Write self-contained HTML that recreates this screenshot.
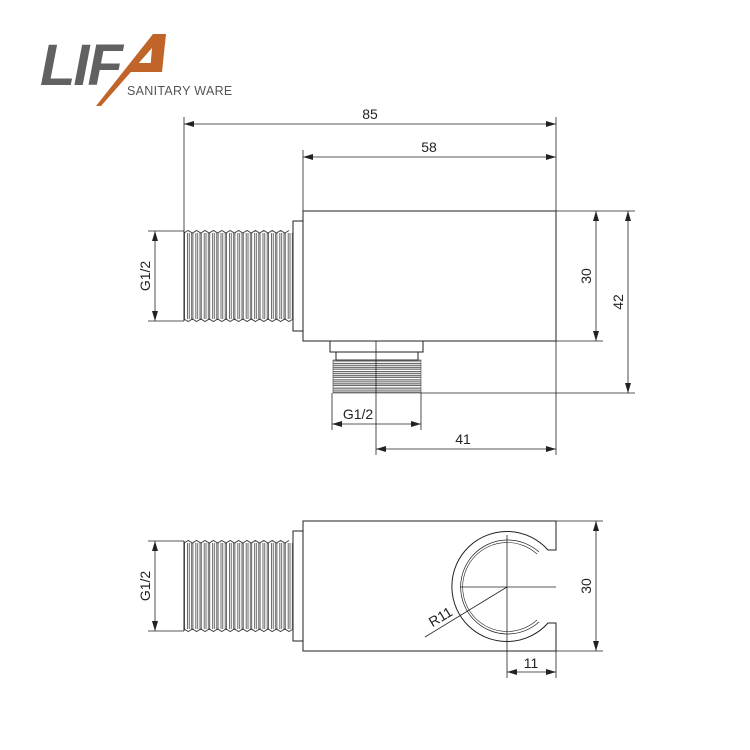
<!DOCTYPE html>
<html><head><meta charset="utf-8"><style>
html,body{margin:0;padding:0;background:#fff;}
svg{display:block;}
text{font-family:"Liberation Sans",sans-serif;fill:#222;}
</style></head><body>
<svg width="750" height="750" viewBox="0 0 750 750" xmlns="http://www.w3.org/2000/svg">
<defs>
<pattern id="thr" x="184" y="0" width="8.4" height="750" patternUnits="userSpaceOnUse">
<path d="M0.5 0V750M3.4 0V750M5.2 0V750M7.6 0V750" stroke="#444" stroke-width="0.8"/>
</pattern>
<pattern id="thrh" x="0" y="360" width="750" height="8.2" patternUnits="userSpaceOnUse">
<path d="M0 1H750M0 3.5H750M0 5.5H750M0 7.5H750" stroke="#444" stroke-width="0.9"/>
</pattern>
<marker id="ar" markerWidth="10" markerHeight="6" refX="10" refY="3" orient="auto-start-reverse" markerUnits="userSpaceOnUse">
<path d="M0 0L10 3L0 6Z" fill="#222"/>
</marker>
</defs>

<!-- Logo -->
<g>
<text x="40" y="85" font-size="58" font-weight="bold" font-style="italic" style="fill:#616161;letter-spacing:-2px">LIF</text>
<path d="M96 106 L153 34 L166 34 L162 72 L150 72 L152 48 L101 106 Z" fill="#c0642a"/>
<path d="M130 72 L162 72 L162 63 L137 63 Z" fill="#c0642a"/>
<text x="127" y="95" font-size="12.5" style="fill:#555;letter-spacing:0.3px">SANITARY WARE</text>
</g>

<g fill="none" stroke="#222" stroke-width="1">
<!-- top view -->
<rect x="303" y="211" width="253" height="130"/>
<rect x="293" y="221" width="10" height="110"/>
<rect x="184" y="233" width="109" height="86" fill="url(#thr)" stroke="none"/>
<path d="M184 233 l4.2 -2.5 4.2 2.5 4.2 -2.5 4.2 2.5 4.2 -2.5 4.2 2.5 4.2 -2.5 4.2 2.5 4.2 -2.5 4.2 2.5 4.2 -2.5 4.2 2.5 4.2 -2.5 4.2 2.5 4.2 -2.5 4.2 2.5 4.2 -2.5 4.2 2.5 4.2 -2.5 4.2 2.5 4.2 -2.5 4.2 2.5 4.2 -2.5 4.2 2.5 4.2 -2.5" stroke="#444"/>
<path d="M184 319 l4.2 2.5 4.2 -2.5 4.2 2.5 4.2 -2.5 4.2 2.5 4.2 -2.5 4.2 2.5 4.2 -2.5 4.2 2.5 4.2 -2.5 4.2 2.5 4.2 -2.5 4.2 2.5 4.2 -2.5 4.2 2.5 4.2 -2.5 4.2 2.5 4.2 -2.5 4.2 2.5 4.2 -2.5 4.2 2.5 4.2 -2.5 4.2 2.5 4.2 -2.5 4.2 2.5 4.2 -2.5" stroke="#444"/>
<line x1="184" y1="231" x2="184" y2="321"/>
<!-- bottom fitting -->
<rect x="330" y="341" width="93" height="11"/>
<rect x="336" y="352" width="82" height="8"/>
<rect x="333" y="360" width="88" height="33" fill="url(#thrh)" stroke="#444" stroke-width="0.6"/>
<line x1="376" y1="341" x2="376" y2="455" stroke-width="0.8"/>

<!-- dims top -->
<g stroke-width="0.8">
<line x1="184" y1="117" x2="184" y2="231"/>
<line x1="556" y1="117" x2="556" y2="211"/>
<line x1="303" y1="150" x2="303" y2="211"/>
<line x1="184" y1="124" x2="556" y2="124" marker-start="url(#ar)" marker-end="url(#ar)"/>
<line x1="303" y1="157" x2="556" y2="157" marker-start="url(#ar)" marker-end="url(#ar)"/>
<line x1="556" y1="211" x2="635" y2="211"/>
<line x1="556" y1="341" x2="603" y2="341"/>
<line x1="421" y1="393" x2="635" y2="393"/>
<line x1="596" y1="211" x2="596" y2="341" marker-start="url(#ar)" marker-end="url(#ar)"/>
<line x1="628" y1="211" x2="628" y2="393" marker-start="url(#ar)" marker-end="url(#ar)"/>
<line x1="148" y1="231" x2="184" y2="231"/>
<line x1="148" y1="321" x2="184" y2="321"/>
<line x1="155" y1="231" x2="155" y2="321" marker-start="url(#ar)" marker-end="url(#ar)"/>
<line x1="332" y1="393" x2="332" y2="430"/>
<line x1="421" y1="393" x2="421" y2="430"/>
<line x1="332" y1="424" x2="421" y2="424" marker-start="url(#ar)" marker-end="url(#ar)"/>
<line x1="556" y1="341" x2="556" y2="455"/>
<line x1="376" y1="449" x2="556" y2="449" marker-start="url(#ar)" marker-end="url(#ar)"/>
</g>

<!-- bottom view -->
<path d="M548 550 L556 550 L556 521 L303 521 L303 651 L556 651 L556 623 L548 623 A55 55 0 1 1 548 550 Z"/>
<path d="M539 552 A47 47 0 1 0 539 622" stroke-width="0.7"/>
<path d="M537 554 A44.5 44.5 0 1 0 537 620" stroke-width="0.6"/>
<rect x="293" y="531" width="10" height="110"/>
<rect x="184" y="543" width="109" height="86" fill="url(#thr)" stroke="none"/>
<path d="M184 543 l4.2 -2.5 4.2 2.5 4.2 -2.5 4.2 2.5 4.2 -2.5 4.2 2.5 4.2 -2.5 4.2 2.5 4.2 -2.5 4.2 2.5 4.2 -2.5 4.2 2.5 4.2 -2.5 4.2 2.5 4.2 -2.5 4.2 2.5 4.2 -2.5 4.2 2.5 4.2 -2.5 4.2 2.5 4.2 -2.5 4.2 2.5 4.2 -2.5 4.2 2.5 4.2 -2.5" stroke="#444"/>
<path d="M184 629 l4.2 2.5 4.2 -2.5 4.2 2.5 4.2 -2.5 4.2 2.5 4.2 -2.5 4.2 2.5 4.2 -2.5 4.2 2.5 4.2 -2.5 4.2 2.5 4.2 -2.5 4.2 2.5 4.2 -2.5 4.2 2.5 4.2 -2.5 4.2 2.5 4.2 -2.5 4.2 2.5 4.2 -2.5 4.2 2.5 4.2 -2.5 4.2 2.5 4.2 -2.5 4.2 2.5 4.2 -2.5" stroke="#444"/>
<line x1="184" y1="541" x2="184" y2="631"/>
<g stroke-width="0.8">
<line x1="507" y1="535" x2="507" y2="678"/>
<line x1="460" y1="587" x2="556" y2="587"/>
<line x1="507" y1="587" x2="425" y2="637"/>
<line x1="556" y1="521" x2="603" y2="521"/>
<line x1="556" y1="651" x2="603" y2="651"/>
<line x1="596" y1="521" x2="596" y2="651" marker-start="url(#ar)" marker-end="url(#ar)"/>
<line x1="556" y1="651" x2="556" y2="678"/>
<line x1="507" y1="672" x2="556" y2="672" marker-start="url(#ar)" marker-end="url(#ar)"/>
<line x1="148" y1="541" x2="184" y2="541"/>
<line x1="148" y1="631" x2="184" y2="631"/>
<line x1="155" y1="541" x2="155" y2="631" marker-start="url(#ar)" marker-end="url(#ar)"/>
</g>
</g>

<g font-size="14">
<text x="370" y="119" text-anchor="middle">85</text>
<text x="429" y="152" text-anchor="middle">58</text>
<text x="358" y="419" text-anchor="middle">G1/2</text>
<text x="463" y="444" text-anchor="middle">41</text>
<text x="531" y="668" text-anchor="middle">11</text>
<text transform="translate(591,276) rotate(-90)" text-anchor="middle">30</text>
<text transform="translate(623,302) rotate(-90)" text-anchor="middle">42</text>
<text transform="translate(150,276) rotate(-90)" text-anchor="middle">G1/2</text>
<text transform="translate(150,586) rotate(-90)" text-anchor="middle">G1/2</text>
<text transform="translate(591,586) rotate(-90)" text-anchor="middle">30</text>
<text transform="translate(443,621) rotate(-31)" text-anchor="middle">R11</text>
</g>
</svg>
</body></html>
